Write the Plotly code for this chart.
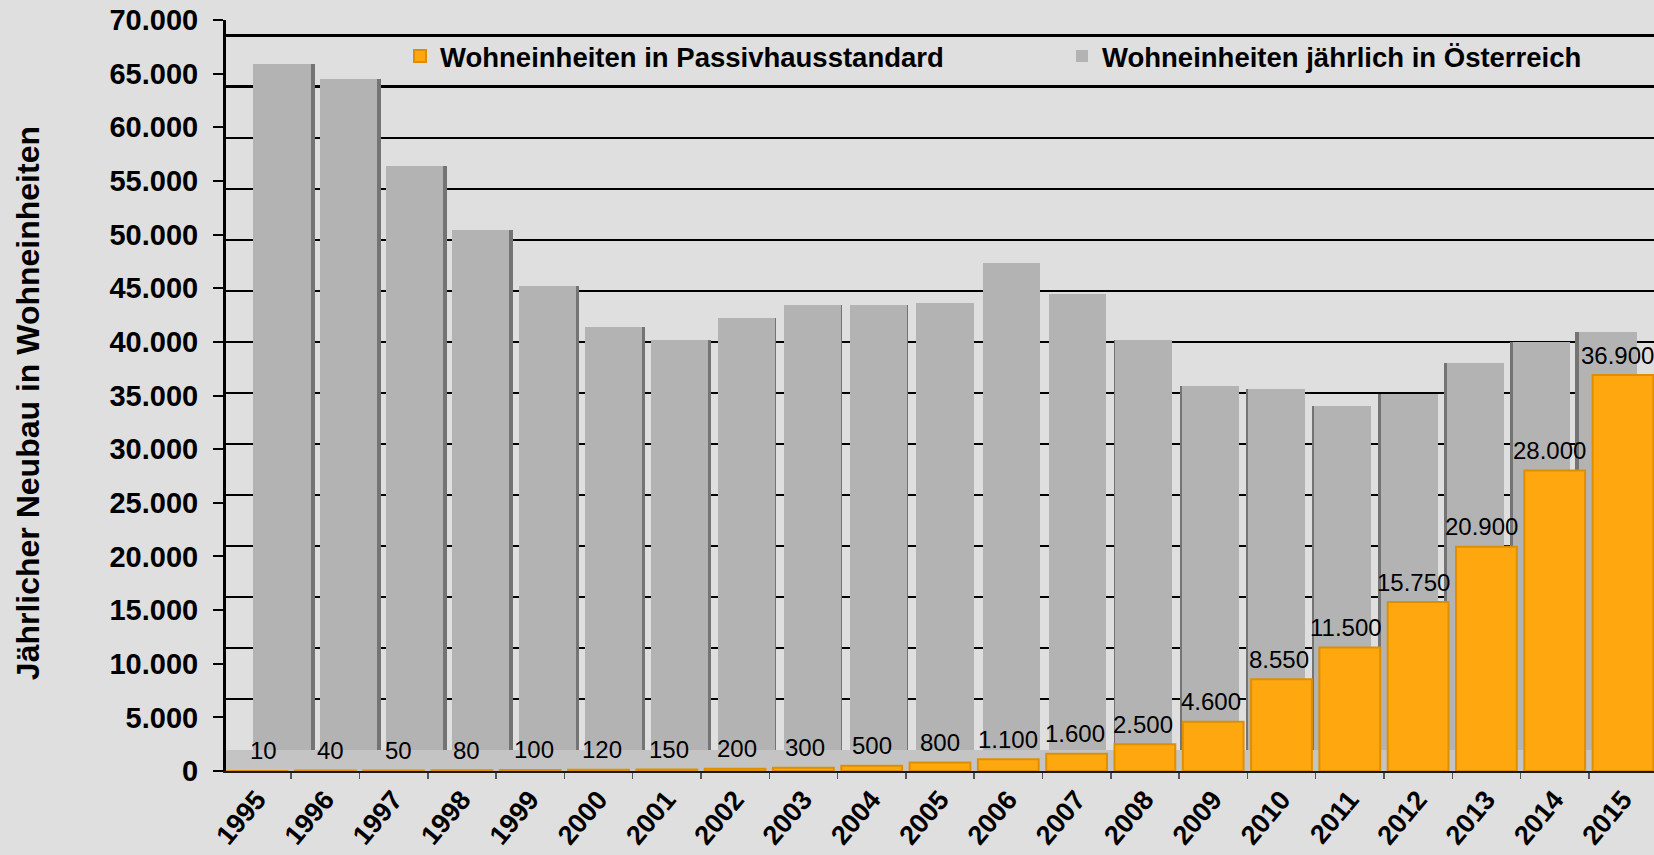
import plotly.graph_objects as go

# ---------------- data ----------------
years = [str(y) for y in range(1995, 2016)]
passivhaus = [10, 40, 50, 80, 100, 120, 150, 200, 300, 500, 800, 1100,
              1600, 2500, 4600, 8550, 11500, 15750, 20900, 28000, 36900]
oesterreich = [67200, 65800, 57200, 51000, 45500, 41500, 40200, 42300,
               43600, 43600, 43800, 47700, 44700, 40200, 35700, 35400,
               33700, 34900, 37900, 40000, 41000]
y_tick_values = list(range(0, 70001, 5000))

name_ph = "Wohneinheiten in Passivhausstandard"
name_at = "Wohneinheiten jährlich in Österreich"
y_title = "Jährlicher Neubau in Wohneinheiten"

# ---------------- geometry / style ----------------
W, H = 1654, 855
M_L, M_T, M_R, M_B = 226, 20, 0, 84.3
plot_w = W - M_L - M_R
plot_h = H - M_T - M_B

# front (orange) category pitch and back-row (grey) pitch, in px
front_pitch, front_first = 68.3, 257
back_pitch, back_first = 66.3, 282
x_front_range = [-(front_first - M_L) / front_pitch,
                 -(front_first - M_L) / front_pitch + plot_w / front_pitch]
x_back_range = [-(back_first - M_L) / back_pitch,
                -(back_first - M_L) / back_pitch + plot_w / back_pitch]

# back wall vertical scale (px per unit) and its zero position (px from top)
back_px_per_unit = 10.2 / 1000
back_zero_px = 749.7
y_back_lo = -((M_T + plot_h) - back_zero_px) / back_px_per_unit
y_back_range = [y_back_lo, y_back_lo + plot_h / back_px_per_unit]

BG = "#dfdfdf"
GREY = "#b3b3b3"
GREY_SIDE = "#747474"
ORANGE = "#ffa70f"
FONT = "Liberation Sans, Arial, sans-serif"

face_w = 0.86
side_offsets = [-face_w / 2 + (11 - k) * 0.45 / back_pitch for k in range(len(years))]

fig = go.Figure()

# back row: grey columns (dark side first, then the face) on the back-wall axes
fig.add_trace(go.Bar(
    x=years, y=oesterreich, xaxis="x", yaxis="y",
    width=face_w, offset=side_offsets,
    marker=dict(color=GREY_SIDE, line=dict(width=0)),
    showlegend=False, hoverinfo="skip",
))
fig.add_trace(go.Bar(
    x=years, y=oesterreich, xaxis="x", yaxis="y", name=name_at,
    width=face_w, marker=dict(color=GREY, line=dict(width=0)),
    legend="legend2",
))
# front row: orange columns on the front axes
fig.add_trace(go.Bar(
    x=years, y=passivhaus, xaxis="x2", yaxis="y2", name=name_ph,
    width=0.89, marker=dict(color=ORANGE, line=dict(color="#e08e00", width=2)),
    legend="legend",
))

# value labels of the orange series (slight perspective drift to the left)
for k, v in enumerate(passivhaus):
    fig.add_annotation(
        x=k, y=v, xref="x2", yref="y2", text=f"{v:,}".replace(",", "."),
        showarrow=False, yanchor="middle", yshift=20, xshift=6 - 0.6 * k,
        font=dict(family=FONT, size=24, color="black"),
    )

# y-axis title
fig.add_annotation(
    text=y_title, xref="paper", yref="paper",
    x=(27.5 - M_L) / plot_w, y=(M_T + plot_h - 403.5) / plot_h,
    xanchor="center", yanchor="middle", textangle=-90, showarrow=False,
    font=dict(family=FONT, size=32, weight="bold", color="black"),
)

legend_font = dict(family=FONT, size=27.5, weight="bold", color="black")
legend_y = (M_T + plot_h - 56) / plot_h

fig.update_layout(
    width=W, height=H, template="none",
    margin=dict(l=M_L, r=M_R, t=M_T, b=M_B, pad=0),
    paper_bgcolor=BG, plot_bgcolor=BG,
    separators=",.",
    barmode="overlay", bargap=0,
    font=dict(family=FONT, color="black"),
    showlegend=True,
    legend=dict(
        orientation="h", x=(400 - M_L) / plot_w, xanchor="left",
        y=legend_y, yanchor="middle",
        bgcolor="rgba(0,0,0,0)", borderwidth=0, font=legend_font,
        itemclick=False, itemdoubleclick=False,
    ),
    legend2=dict(
        orientation="h", x=(1062 - M_L) / plot_w, xanchor="left",
        y=legend_y, yanchor="middle",
        bgcolor="rgba(0,0,0,0)", borderwidth=0, font=legend_font,
        itemclick=False, itemdoubleclick=False,
    ),
    # back wall axes (grid lines)
    xaxis=dict(
        type="category", categoryorder="array", categoryarray=years,
        range=x_back_range, domain=[0, 1],
        showticklabels=False, showline=False, ticks="", showgrid=False,
        zeroline=False, automargin=False, fixedrange=True,
    ),
    yaxis=dict(
        range=y_back_range, tickvals=y_tick_values[1:],
        showticklabels=False, ticks="", showline=False,
        showgrid=True, gridcolor="black", gridwidth=2.5,
        zeroline=False, automargin=False, fixedrange=True,
    ),
    # front axes (labels, ticks, axis lines)
    xaxis2=dict(
        type="category", categoryorder="array", categoryarray=years,
        range=x_front_range, overlaying="x",
        showline=True, linecolor="#1a1a1a", linewidth=2,
        ticks="outside", tickson="boundaries", ticklen=6, tickwidth=1.5,
        tickcolor="#555555",
        tickangle=-50, tickfont=dict(family=FONT, size=27, weight="bold"),
        showgrid=False, zeroline=False, automargin=False, fixedrange=True,
    ),
    yaxis2=dict(
        range=[0, 70000], tickvals=y_tick_values, tickformat=",d",
        overlaying="y", side="left",
        showline=True, linecolor="black", linewidth=3,
        ticks="outside", ticklen=10, tickwidth=2, tickcolor="black",
        ticklabelstandoff=9,
        tickfont=dict(family=FONT, size=29, weight="bold"),
        showgrid=False, zeroline=False, automargin=False, fixedrange=True,
    ),
    shapes=[dict(
        type="rect", xref="paper", x0=0, x1=1, yref="y",
        y0=y_back_range[0], y1=0, fillcolor="#c4c4c4",
        line=dict(width=0), layer="below",
    )],
)

fig.write_html(
    "out.html",
    config={"displayModeBar": False, "staticPlot": True},
    post_script="document.body.style.margin='0';document.body.style.padding='0';"
                "document.body.style.overflow='hidden';",
)
